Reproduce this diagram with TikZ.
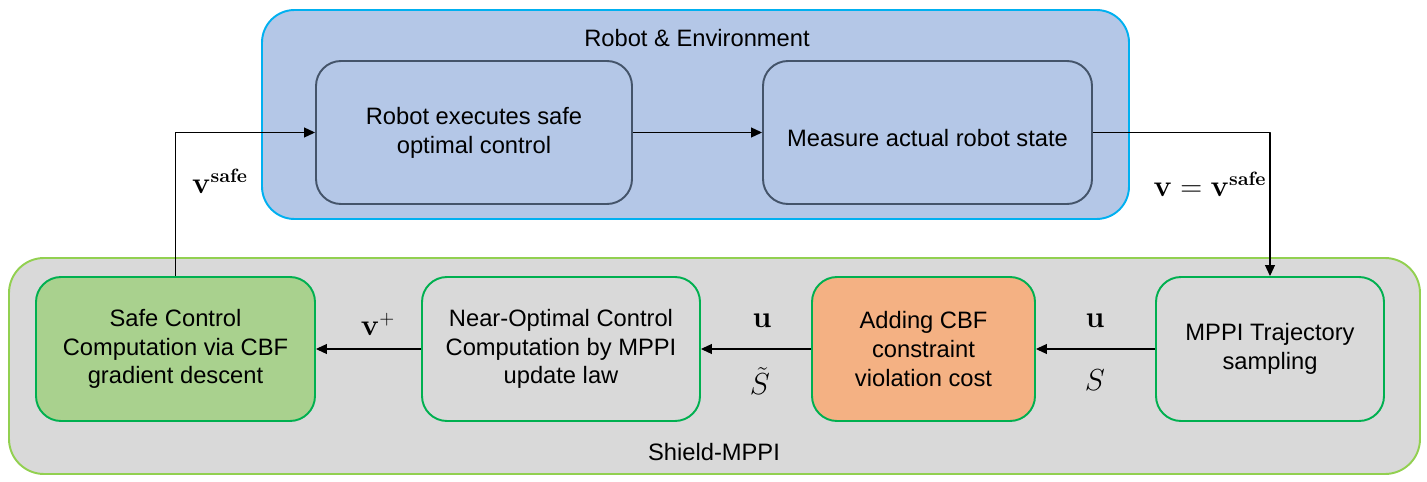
\documentclass[tikz,border=0pt]{standalone}
\usepackage{amsmath}
\usepackage[no-math]{fontspec}
\setmainfont{Liberation Sans}
\usetikzlibrary{arrows.meta,positioning}
\definecolor{envfill}{HTML}{B4C7E7}
\definecolor{envline}{HTML}{00B0F0}
\definecolor{robline}{HTML}{44546A}
\definecolor{shfill}{HTML}{D9D9D9}
\definecolor{shline}{HTML}{92D050}
\definecolor{boxline}{HTML}{00B050}
\definecolor{safecol}{HTML}{A9D18E}
\definecolor{cbfcol}{HTML}{F4B183}

\begin{document}
\begin{tikzpicture}[
  font=\fontsize{13.5}{16.4}\selectfont, >={Triangle[length=2.2mm,width=2mm]},
  line join=round,
  group/.style={draw, line width=1.1pt, rounded corners=0.65cm, inner sep=0pt},
  robbox/.style={draw=robline, fill=envfill, line width=1.1pt, rounded corners=0.5cm,
    align=center, minimum height=2.86cm, inner sep=0pt,
    execute at begin node={\rule{0pt}{0.56cm}}},
  ctrlbox/.style={draw=boxline, line width=1.1pt, rounded corners=0.5cm,
    align=center, minimum height=2.88cm, inner sep=0pt,
    execute at begin node={\rule{0pt}{0.54cm}}},
  flow/.style={->, line width=0.6pt},
  mlabel/.style={font=\fontsize{16}{18}\selectfont, inner sep=1pt}]

\useasboundingbox (0,0) rectangle (28.54,-9.64);

% ---- the two groups -----------------------------------------------------
\node[group, draw=envline, fill=envfill, minimum width=17.34cm, minimum height=4.18cm]
  (env) at (13.91,-2.29) {};
\node (envtitle) at (13.94,-0.76) {Robot \& Environment};

\node[group, draw=shline, fill=shfill, rounded corners=0.7cm,
  minimum width=28.22cm, minimum height=4.32cm] (shield) at (14.29,-7.32) {};
\node (shtitle) at (14.28,-9.04) {Shield-MPPI};

% ---- robot side -----------------------------------------------------------
\node[robbox, minimum width=6.32cm] (exec) at (9.48,-2.65)
  {Robot executes safe\\optimal control};
\node[robbox, minimum width=6.58cm] (meas) at (18.55,-2.65)
  {Measure actual robot state};

% ---- controller side ------------------------------------------------------
\node[ctrlbox, fill=safecol, minimum width=5.58cm] (safe) at (3.51,-6.98)
  {Safe Control\\Computation via CBF\\gradient descent};
\node[ctrlbox, fill=shfill, minimum width=5.56cm] (nearopt) at (11.22,-6.98)
  {Near-Optimal Control\\Computation by MPPI\\update law};
\node[ctrlbox, fill=cbfcol, minimum width=4.46cm] (cbf) at (18.47,-6.98)
  {Adding CBF\\constraint\\violation cost};
\node[ctrlbox, fill=shfill, minimum width=4.56cm] (mppi) at (25.40,-6.98)
  {MPPI Trajectory\\sampling};

% ---- connectors -----------------------------------------------------------
\draw[flow] (exec.east) -- (meas.west);
\draw[flow] (meas.east) -| (mppi.north);
\draw[flow] (safe.north) |- (exec.west);
\draw[flow] (mppi.west) -- (cbf.east);
\draw[flow] (cbf.west) -- (nearopt.east);
\draw[flow] (nearopt.west) -- (safe.east);

% ---- signal labels --------------------------------------------------------
\node[mlabel] (lvsafe) at (4.40,-3.62) {$\mathbf{v}^{\mathbf{safe}}$};
\node[mlabel] (lveq) at (24.20,-3.68) {$\mathbf{v}=\mathbf{v}^{\mathbf{safe}}$};
\node[mlabel] (lvplus) at (7.56,-6.48) {$\mathbf{v}^{+}$};
\node[mlabel] (lu1) at (15.24,-6.42) {$\mathbf{u}$};
\node[mlabel] (ls1) at (15.20,-7.62) {$\tilde{S}$};
\node[mlabel] (lu2) at (21.90,-6.42) {$\mathbf{u}$};
\node[mlabel] (ls2) at (21.90,-7.60) {$S$};

\end{tikzpicture}
\end{document}
